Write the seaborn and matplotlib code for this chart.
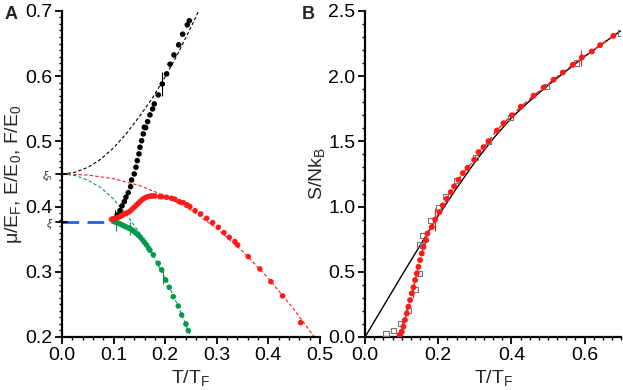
import numpy as np
import pandas as pd
import seaborn as sns
import matplotlib
matplotlib.use('Agg')
import matplotlib.pyplot as plt
from matplotlib.ticker import MultipleLocator, FormatStrFormatter

# ---- panel A data (T/T_F vs energies) ----
xi_n = 0.45
xi = 0.376

E_x = [0.1027, 0.1072, 0.1124, 0.1163, 0.1208, 0.124, 0.1285, 0.133, 0.135, 0.1401,
       0.1434, 0.146, 0.1492, 0.1512, 0.1544, 0.1576, 0.1595, 0.1622, 0.166, 0.1705,
       0.1757, 0.1789, 0.1866, 0.1944, 0.2028, 0.2093, 0.2171, 0.2261, 0.2339, 0.2429, 0.2468]
E_y = [0.382, 0.3871, 0.3937, 0.4009, 0.4075, 0.4143, 0.4213, 0.4305, 0.4408, 0.45,
       0.4603, 0.4704, 0.4807, 0.491, 0.501, 0.5114, 0.5216, 0.521, 0.5302, 0.5405,
       0.5497, 0.5574, 0.5712, 0.588, 0.6034, 0.6182, 0.6325, 0.6479, 0.6643, 0.6785, 0.685]

F_x = [0.096, 0.100, 0.104, 0.108, 0.112, 0.116, 0.120, 0.124, 0.128, 0.132, 0.136,
       0.140, 0.144, 0.148, 0.152, 0.156, 0.160, 0.164, 0.168, 0.172, 0.176, 0.180,
       0.1899, 0.1932, 0.2029, 0.2126, 0.219, 0.2274, 0.2351, 0.2429, 0.248, 0.2578,
       0.2688, 0.2804, 0.292, 0.303, 0.314, 0.3243, 0.3353, 0.3405, 0.361, 0.3837,
       0.405, 0.4277, 0.4626]
F_y = [0.3805, 0.381, 0.382, 0.383, 0.3845, 0.386, 0.388, 0.3895, 0.391, 0.393, 0.396,
       0.399, 0.402, 0.405, 0.408, 0.411, 0.413, 0.4145, 0.4155, 0.416, 0.4163, 0.4163,
       0.4152, 0.4152, 0.4142, 0.4127, 0.4112, 0.4075, 0.406, 0.4025, 0.3999, 0.3937,
       0.3887, 0.382, 0.3753, 0.3682, 0.36, 0.3529, 0.3462, 0.3411, 0.3232, 0.3043,
       0.2848, 0.2629, 0.2219]

mu_x = [0.100, 0.104, 0.108, 0.112, 0.116, 0.120, 0.124, 0.128, 0.132, 0.136, 0.140,
        0.144, 0.148, 0.152, 0.156, 0.160, 0.164, 0.168, 0.1705, 0.177, 0.1866, 0.1932,
        0.2009, 0.2079, 0.2157, 0.2254, 0.232, 0.2403, 0.2448]
mu_y = [0.377, 0.376, 0.375, 0.3735, 0.372, 0.3705, 0.369, 0.3675, 0.366, 0.364, 0.3615,
        0.359, 0.356, 0.353, 0.349, 0.345, 0.341, 0.336, 0.333, 0.326, 0.313, 0.303,
        0.2874, 0.2762, 0.2618, 0.2475, 0.2337, 0.2199, 0.2097]

# normal-state curves
Ecurve_x = [0.0, 0.025, 0.05, 0.075, 0.1, 0.125, 0.15, 0.175, 0.2, 0.225, 0.25, 0.265]
Ecurve_y = [0.45, 0.4525, 0.460, 0.4725, 0.490, 0.512, 0.538, 0.566, 0.599, 0.635, 0.675, 0.700]
Fcurve_x = [0.0, 0.05, 0.1, 0.15, 0.2, 0.25, 0.3, 0.35, 0.4, 0.45, 0.49, 0.5]
Fcurve_y = [0.45, 0.4483, 0.4427, 0.4323, 0.4164, 0.3945, 0.3663, 0.3315, 0.29, 0.242, 0.199, 0.188]
mucurve_x = [0.0, 0.025, 0.05, 0.075, 0.1, 0.125, 0.15, 0.175, 0.2, 0.225, 0.25, 0.26]
mucurve_y = [0.45, 0.4477, 0.4405, 0.4292, 0.4115, 0.3875, 0.36, 0.3275, 0.29, 0.2475, 0.20, 0.18]

# ---- panel B data (entropy) ----
S_line_x = [0.0, 0.05, 0.1, 0.15, 0.2, 0.25, 0.3, 0.35, 0.4, 0.45, 0.5, 0.55, 0.6, 0.65, 0.7]
S_line_y = [0.0, 0.235, 0.47, 0.70, 0.93, 1.14, 1.34, 1.52, 1.68, 1.81, 1.93, 2.04, 2.15, 2.25, 2.35]

sq_x = [0.0574, 0.0774, 0.0976, 0.1195, 0.1376, 0.1486, 0.150, 0.158, 0.158, 0.178,
        0.2005, 0.219, 0.249, 0.3008, 0.3375, 0.3986, 0.497, 0.579, 0.699]
sq_y = [0.028, 0.048, 0.105, 0.201, 0.364, 0.487, 0.71, 0.70, 0.78, 0.894,
        0.992, 1.078, 1.20, 1.374, 1.501, 1.68, 1.919, 2.10, 2.33]

S_x = [0.094, 0.1003, 0.1048, 0.109, 0.114, 0.1185, 0.123, 0.1277, 0.1322, 0.1367,
       0.1413, 0.1458, 0.1504, 0.155, 0.1595, 0.1668, 0.1704, 0.1824, 0.1915, 0.2034,
       0.2125, 0.2234, 0.2343, 0.2434, 0.2553, 0.2672, 0.28, 0.2982, 0.31, 0.3237,
       0.3375, 0.3603, 0.3785, 0.4013, 0.426, 0.4605, 0.488, 0.515, 0.5405, 0.568,
       0.5925, 0.62, 0.6426, 0.679]
S_y = [0.015, 0.04, 0.079, 0.13, 0.181, 0.232, 0.283, 0.334, 0.38, 0.436,
       0.487, 0.538, 0.589, 0.64, 0.69, 0.742, 0.793, 0.843, 0.90, 0.958,
       1.009, 1.06, 1.111, 1.154, 1.205, 1.256, 1.297, 1.358, 1.417, 1.455,
       1.501, 1.583, 1.639, 1.70, 1.766, 1.85, 1.913, 1.972, 2.028, 2.087,
       2.143, 2.189, 2.238, 2.309]

# a few error bars
errA_black = ([0.1944, 0.103], [0.588, 0.386], [0.018, 0.008])
errA_green = ([0.105, 0.131, 0.195], [0.375, 0.367, 0.293], [0.013, 0.010, 0.012])
errB_red = ([0.100, 0.131, 0.19, 0.59], [0.06, 0.35, 0.90, 2.14], [0.08, 0.05, 0.09, 0.06])

red = '#ff1a1a'
green = '#009a4e'
blue = '#1f5ff0'
FS = 14

sns.set_theme(style='ticks')
plt.rcParams['font.family'] = ['Liberation Sans', 'DejaVu Sans']
plt.rcParams['mathtext.fontset'] = 'custom'
plt.rcParams['mathtext.rm'] = 'Liberation Sans'
plt.rcParams['mathtext.it'] = 'Liberation Sans:italic'

fig = plt.figure(figsize=(6.23, 3.9), dpi=100)
axA = fig.add_axes([0.0995, 0.136, 0.414, 0.836])
axB = fig.add_axes([0.586, 0.136, 0.411, 0.836])

# panel A
sns.lineplot(x=Ecurve_x, y=Ecurve_y, ax=axA, color='black', lw=0.8, dashes=(3, 2), sort=False)
sns.lineplot(x=Fcurve_x, y=Fcurve_y, ax=axA, color=red, lw=0.8, dashes=(3, 2), sort=False)
sns.lineplot(x=mucurve_x, y=mucurve_y, ax=axA, color=green, lw=0.8, dashes=(3, 2), sort=False)
sns.lineplot(x=[0.0, 0.1], y=[xi, xi], ax=axA, color=blue, lw=2, dashes=(6, 3), sort=False)

sns.scatterplot(x=mu_x, y=mu_y, ax=axA, color=green, s=16, edgecolor='none', zorder=4)
sns.scatterplot(x=E_x, y=E_y, ax=axA, color='black', s=16, edgecolor='none', zorder=4)
sns.scatterplot(x=F_x, y=F_y, ax=axA, color=red, s=16, edgecolor='none', zorder=5)
axA.errorbar(errA_black[0], errA_black[1], yerr=errA_black[2], fmt='none', ecolor='black', elinewidth=0.8)
axA.errorbar(errA_green[0], errA_green[1], yerr=errA_green[2], fmt='none', ecolor=green, elinewidth=0.8)

axA.set_xlim(0, 0.5)
axA.set_ylim(0.2, 0.7)
axA.xaxis.set_major_locator(MultipleLocator(0.1))
axA.xaxis.set_minor_locator(MultipleLocator(0.02))
axA.yaxis.set_major_locator(MultipleLocator(0.1))
axA.yaxis.set_minor_locator(MultipleLocator(0.01))
axA.xaxis.set_major_formatter(FormatStrFormatter('%.1f'))
axA.yaxis.set_major_formatter(FormatStrFormatter('%.1f'))
axA.set_xlabel('T/T$_\\mathrm{F}$', fontsize=FS, labelpad=3)
axA.set_ylabel('\u03bc/E$_\\mathrm{F}$, E/E$_0$, F/E$_0$', fontsize=FS, labelpad=1)
# xi markers on the energy axis
for val, lab in [(xi_n, '$\\xi_n$'), (xi, '$\\xi$')]:
    axA.axhline(val, xmin=-0.025, xmax=0.02, color='black', lw=1.3, clip_on=False)
    axA.text(-0.035, val - 0.003, lab, transform=axA.get_yaxis_transform(), ha='right',
             va='center', fontsize=8, family='DejaVu Serif')

# panel B
sns.lineplot(x=S_line_x, y=S_line_y, ax=axB, color='black', lw=1.0, sort=False)
sns.lineplot(x=S_x, y=S_y, ax=axB, color=red, lw=1.0, dashes=(4, 2), sort=False)
sns.scatterplot(x=sq_x, y=sq_y, ax=axB, marker='s', s=14, facecolor='none', edgecolor='#777777',
                linewidth=0.8, zorder=4)
sns.scatterplot(x=S_x, y=S_y, ax=axB, color=red, s=18, edgecolor='none', zorder=5)
axB.errorbar(errB_red[0], errB_red[1], yerr=errB_red[2], fmt='none', ecolor=red, elinewidth=0.8)

axB.set_xlim(0, 0.7)
axB.set_ylim(0, 2.5)
axB.xaxis.set_major_locator(MultipleLocator(0.2))
axB.xaxis.set_minor_locator(MultipleLocator(0.025))
axB.yaxis.set_major_locator(MultipleLocator(0.5))
axB.yaxis.set_minor_locator(MultipleLocator(0.1))
axB.xaxis.set_major_formatter(FormatStrFormatter('%.1f'))
axB.yaxis.set_major_formatter(FormatStrFormatter('%.1f'))
axB.set_xlabel('T/T$_\\mathrm{F}$', fontsize=FS, labelpad=3)
axB.set_ylabel('S/Nk$_\\mathrm{B}$', fontsize=FS, labelpad=1)

for ax in (axA, axB):
    sns.despine(ax=ax)
    for s in ('left', 'bottom'):
        ax.spines[s].set_linewidth(1.6)
        ax.spines[s].set_color('black')
    ax.tick_params(which='major', direction='out', length=5, width=1.3, labelsize=FS,
                   colors='black', pad=2)
    ax.tick_params(which='minor', direction='out', length=2.5, width=1.0, colors='black')

fig.text(0.008, 0.985, 'A', fontsize=13, fontweight='bold', va='top', ha='left')
fig.text(0.485, 0.985, 'B', fontsize=13, fontweight='bold', va='top', ha='left')

fig.savefig('out.png', dpi=100)
